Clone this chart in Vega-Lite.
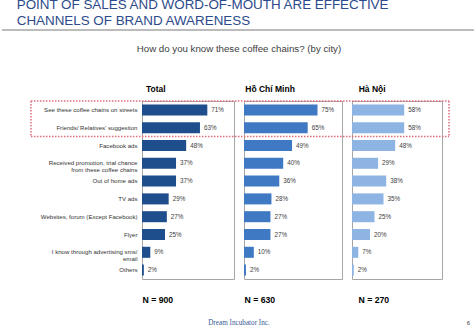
{
  "$schema": "https://vega.github.io/schema/vega-lite/v6.json",
  "background": "white",
  "padding": {"left": 0, "top": -3, "right": 0, "bottom": 0},
  "config": {
    "view": {"stroke": "#a6a6a6", "strokeWidth": 1},
    "font": "Liberation Sans",
    "text": {"font": "Liberation Sans"}
  },
  "title": {
    "text": ["POINT OF SALES AND WORD-OF-MOUTH ARE EFFECTIVE", "CHANNELS OF BRAND AWARENESS"],
    "anchor": "start",
    "frame": "bounds",
    "dx": 16,
    "fontSize": 13.4,
    "fontWeight": "normal",
    "font": "Liberation Sans",
    "color": "#2c4a8c",
    "lineHeight": 16.7,
    "offset": 1
  },
  "datasets": {
    "survey": [
      {"channel": "See these coffee chains on streets", "city": "Total", "pct": 0.71},
      {"channel": "Friends/ Relatives' suggestion", "city": "Total", "pct": 0.63},
      {"channel": "Facebook ads", "city": "Total", "pct": 0.48},
      {"channel": "Received promotion, trial chance|from these coffee chains", "city": "Total", "pct": 0.37},
      {"channel": "Out of home ads", "city": "Total", "pct": 0.37},
      {"channel": "TV ads", "city": "Total", "pct": 0.29},
      {"channel": "Websites, forum (Except Facebook)", "city": "Total", "pct": 0.27},
      {"channel": "Flyer", "city": "Total", "pct": 0.25},
      {"channel": "I know through advertising sms/|email", "city": "Total", "pct": 0.09},
      {"channel": "Others", "city": "Total", "pct": 0.02},
      {"channel": "See these coffee chains on streets", "city": "HCM", "pct": 0.75},
      {"channel": "Friends/ Relatives' suggestion", "city": "HCM", "pct": 0.65},
      {"channel": "Facebook ads", "city": "HCM", "pct": 0.49},
      {"channel": "Received promotion, trial chance|from these coffee chains", "city": "HCM", "pct": 0.40},
      {"channel": "Out of home ads", "city": "HCM", "pct": 0.36},
      {"channel": "TV ads", "city": "HCM", "pct": 0.28},
      {"channel": "Websites, forum (Except Facebook)", "city": "HCM", "pct": 0.27},
      {"channel": "Flyer", "city": "HCM", "pct": 0.27},
      {"channel": "I know through advertising sms/|email", "city": "HCM", "pct": 0.10},
      {"channel": "Others", "city": "HCM", "pct": 0.02},
      {"channel": "See these coffee chains on streets", "city": "HN", "pct": 0.58},
      {"channel": "Friends/ Relatives' suggestion", "city": "HN", "pct": 0.58},
      {"channel": "Facebook ads", "city": "HN", "pct": 0.48},
      {"channel": "Received promotion, trial chance|from these coffee chains", "city": "HN", "pct": 0.29},
      {"channel": "Out of home ads", "city": "HN", "pct": 0.38},
      {"channel": "TV ads", "city": "HN", "pct": 0.35},
      {"channel": "Websites, forum (Except Facebook)", "city": "HN", "pct": 0.25},
      {"channel": "Flyer", "city": "HN", "pct": 0.20},
      {"channel": "I know through advertising sms/|email", "city": "HN", "pct": 0.07},
      {"channel": "Others", "city": "HN", "pct": 0.02}
    ]
  },
  "bounds": "flush",
  "spacing": 10,
  "hconcat": [
    {
      "width": 92,
      "height": 178,
      "data": {"name": "survey"},
      "resolve": {"scale": {"y": "independent"}},
      "layer": [
        {
          "transform": [{"filter": "datum.city == 'Total'"}],
          "mark": {"type": "bar", "color": "#1f4e8c"},
          "encoding": {
            "y": {"field": "channel", "type": "nominal", "sort": null, "scale": {"paddingInner": 0.38, "paddingOuter": 0.19},
                  "axis": {"title": null, "domain": false, "ticks": false, "labelPadding": 5, "labelFontSize": 6.1, "labelColor": "#333333", "labelLineHeight": 7, "labelExpr": "split(datum.label, '|')", "labelLimit": 200}},
            "x": {"field": "pct", "type": "quantitative", "scale": {"domain": [0, 1], "nice": false},
                  "axis": {"labels": false, "ticks": false, "domain": false, "grid": false, "title": "N = 900", "titleFontSize": 8.7, "titleFontWeight": "bold", "titleAnchor": "start", "titlePadding": 16, "titleColor": "#000000"}}
          }
        },
        {
          "transform": [{"filter": "datum.city == 'Total'"}],
          "mark": {"type": "text", "align": "left", "dx": 4, "fontSize": 6.3, "color": "#404040"},
          "encoding": {
            "y": {"field": "channel", "type": "nominal", "sort": null, "scale": {"paddingInner": 0.38, "paddingOuter": 0.19}, "axis": null},
            "x": {"field": "pct", "type": "quantitative", "scale": {"domain": [0, 1], "nice": false}},
            "text": {"field": "pct", "type": "quantitative", "format": ".0%"}
          }
        },
        {
          "data": {"values": [{}]},
          "mark": {"type": "text", "align": "left", "baseline": "middle", "fontSize": 8.5, "fontWeight": "bold", "color": "#000000", "clip": false},
          "encoding": {
            "x": {"datum": 0.043, "type": "quantitative", "scale": {"domain": [0, 1], "nice": false}},
            "y": {"datum": -0.69, "type": "quantitative", "scale": {"domain": [0, 10], "reverse": true, "nice": false, "zero": false}, "axis": null},
            "text": {"value": "Total"}
          }
        },
        {
          "data": {"values": [{}]},
          "mark": {"type": "rule", "color": "#e06c7c", "strokeWidth": 1.5, "strokeDash": [1.5, 1.5], "clip": false},
          "encoding": {
            "x": {"datum": -1.207, "type": "quantitative", "scale": {"domain": [0, 1], "nice": false}},
            "x2": {"datum": 1.109},
            "y": {"datum": 0, "type": "quantitative", "scale": {"domain": [0, 10], "reverse": true, "nice": false, "zero": false}, "axis": null}
          }
        },
        {
          "data": {"values": [{}]},
          "mark": {"type": "rule", "color": "#e06c7c", "strokeWidth": 1.5, "strokeDash": [1.5, 1.5], "clip": false},
          "encoding": {
            "x": {"datum": -1.207, "type": "quantitative", "scale": {"domain": [0, 1], "nice": false}},
            "x2": {"datum": 1.109},
            "y": {"datum": 2, "type": "quantitative", "scale": {"domain": [0, 10], "reverse": true, "nice": false, "zero": false}, "axis": null}
          }
        },
        {
          "data": {"values": [{}]},
          "mark": {"type": "rule", "color": "#e06c7c", "strokeWidth": 1.5, "strokeDash": [1.5, 1.5], "clip": false},
          "encoding": {
            "x": {"datum": -1.207, "type": "quantitative", "scale": {"domain": [0, 1], "nice": false}},
            "y": {"datum": 0, "type": "quantitative", "scale": {"domain": [0, 10], "reverse": true, "nice": false, "zero": false}, "axis": null},
            "y2": {"datum": 2}
          }
        },
        {
          "data": {"values": [{}]},
          "mark": {"type": "rule", "color": "#a6a6a6", "strokeWidth": 1.5, "clip": false},
          "encoding": {
            "x": {"datum": -1.522, "type": "quantitative", "scale": {"domain": [0, 1], "nice": false}},
            "x2": {"datum": 3.63},
            "y": {"datum": -3.99, "type": "quantitative", "scale": {"domain": [0, 10], "reverse": true, "nice": false, "zero": false}, "axis": null}
          }
        },
        {
          "data": {"values": [{}]},
          "mark": {"type": "text", "align": "center", "baseline": "middle", "fontSize": 9.7, "color": "#404040", "clip": false},
          "encoding": {
            "x": {"datum": 1.054, "type": "quantitative", "scale": {"domain": [0, 1], "nice": false}},
            "y": {"datum": -2.92, "type": "quantitative", "scale": {"domain": [0, 10], "reverse": true, "nice": false, "zero": false}, "axis": null},
            "text": {"value": "How do you know these coffee chains? (by city)"}
          }
        }
      ]
    },
    {
      "width": 98,
      "height": 178,
      "data": {"name": "survey"},
      "resolve": {"scale": {"y": "independent"}},
      "layer": [
        {
          "transform": [{"filter": "datum.city == 'HCM'"}],
          "mark": {"type": "bar", "color": "#3f79c4"},
          "encoding": {
            "y": {"field": "channel", "type": "nominal", "sort": null, "scale": {"paddingInner": 0.38, "paddingOuter": 0.19}, "axis": null},
            "x": {"field": "pct", "type": "quantitative", "scale": {"domain": [0, 1], "nice": false},
                  "axis": {"labels": false, "ticks": false, "domain": false, "grid": false, "title": "N = 630", "titleFontSize": 8.7, "titleFontWeight": "bold", "titleAnchor": "start", "titlePadding": 16, "titleColor": "#000000"}}
          }
        },
        {
          "transform": [{"filter": "datum.city == 'HCM'"}],
          "mark": {"type": "text", "align": "left", "dx": 4, "fontSize": 6.3, "color": "#404040"},
          "encoding": {
            "y": {"field": "channel", "type": "nominal", "sort": null, "scale": {"paddingInner": 0.38, "paddingOuter": 0.19}, "axis": null},
            "x": {"field": "pct", "type": "quantitative", "scale": {"domain": [0, 1], "nice": false}},
            "text": {"field": "pct", "type": "quantitative", "format": ".0%"}
          }
        },
        {
          "data": {"values": [{}]},
          "mark": {"type": "text", "align": "left", "baseline": "middle", "fontSize": 8.5, "fontWeight": "bold", "color": "#000000", "clip": false},
          "encoding": {
            "x": {"datum": 0.013, "type": "quantitative", "scale": {"domain": [0, 1], "nice": false}},
            "y": {"datum": -0.69, "type": "quantitative", "scale": {"domain": [0, 10], "reverse": true, "nice": false, "zero": false}, "axis": null},
            "text": {"value": "Hồ Chí Minh"}
          }
        },
        {
          "data": {"values": [{}]},
          "mark": {"type": "rule", "color": "#e06c7c", "strokeWidth": 1.5, "strokeDash": [1.5, 1.5], "clip": false},
          "encoding": {
            "x": {"datum": 0, "type": "quantitative", "scale": {"domain": [0, 1], "nice": false}},
            "x2": {"datum": 1.102},
            "y": {"datum": 0, "type": "quantitative", "scale": {"domain": [0, 10], "reverse": true, "nice": false, "zero": false}, "axis": null}
          }
        },
        {
          "data": {"values": [{}]},
          "mark": {"type": "rule", "color": "#e06c7c", "strokeWidth": 1.5, "strokeDash": [1.5, 1.5], "clip": false},
          "encoding": {
            "x": {"datum": 0, "type": "quantitative", "scale": {"domain": [0, 1], "nice": false}},
            "x2": {"datum": 1.102},
            "y": {"datum": 2, "type": "quantitative", "scale": {"domain": [0, 10], "reverse": true, "nice": false, "zero": false}, "axis": null}
          }
        },
        {
          "data": {"values": [{}]},
          "mark": {"type": "text", "align": "center", "baseline": "middle", "fontSize": 7.2, "font": "Liberation Serif", "color": "#3a5a9a", "clip": false},
          "encoding": {
            "x": {"datum": -0.051, "type": "quantitative", "scale": {"domain": [0, 1], "nice": false}},
            "y": {"datum": 12.45, "type": "quantitative", "scale": {"domain": [0, 10], "reverse": true, "nice": false, "zero": false}, "axis": null},
            "text": {"value": "Dream Incubator Inc."}
          }
        },
        {
          "data": {"values": [{}]},
          "mark": {"type": "text", "align": "center", "baseline": "middle", "fontSize": 6, "color": "#404040", "clip": false},
          "encoding": {
            "x": {"datum": 2.29, "type": "quantitative", "scale": {"domain": [0, 1], "nice": false}},
            "y": {"datum": 12.45, "type": "quantitative", "scale": {"domain": [0, 10], "reverse": true, "nice": false, "zero": false}, "axis": null},
            "text": {"value": "6"}
          }
        }
      ]
    },
    {
      "width": 90,
      "height": 178,
      "data": {"name": "survey"},
      "resolve": {"scale": {"y": "independent"}},
      "layer": [
        {
          "transform": [{"filter": "datum.city == 'HN'"}],
          "mark": {"type": "bar", "color": "#8db4e2"},
          "encoding": {
            "y": {"field": "channel", "type": "nominal", "sort": null, "scale": {"paddingInner": 0.38, "paddingOuter": 0.19}, "axis": null},
            "x": {"field": "pct", "type": "quantitative", "scale": {"domain": [0, 1], "nice": false},
                  "axis": {"labels": false, "ticks": false, "domain": false, "grid": false, "title": "N = 270", "titleFontSize": 8.7, "titleFontWeight": "bold", "titleAnchor": "start", "titleX": 6, "titlePadding": 16, "titleColor": "#000000"}}
          }
        },
        {
          "transform": [{"filter": "datum.city == 'HN'"}],
          "mark": {"type": "text", "align": "left", "dx": 4, "fontSize": 6.3, "color": "#404040"},
          "encoding": {
            "y": {"field": "channel", "type": "nominal", "sort": null, "scale": {"paddingInner": 0.38, "paddingOuter": 0.19}, "axis": null},
            "x": {"field": "pct", "type": "quantitative", "scale": {"domain": [0, 1], "nice": false}},
            "text": {"field": "pct", "type": "quantitative", "format": ".0%"}
          }
        },
        {
          "data": {"values": [{}]},
          "mark": {"type": "text", "align": "left", "baseline": "middle", "fontSize": 8.5, "fontWeight": "bold", "color": "#000000", "clip": false},
          "encoding": {
            "x": {"datum": 0.074, "type": "quantitative", "scale": {"domain": [0, 1], "nice": false}},
            "y": {"datum": -0.69, "type": "quantitative", "scale": {"domain": [0, 10], "reverse": true, "nice": false, "zero": false}, "axis": null},
            "text": {"value": "Hà Nội"}
          }
        },
        {
          "data": {"values": [{}]},
          "mark": {"type": "rule", "color": "#e06c7c", "strokeWidth": 1.5, "strokeDash": [1.5, 1.5], "clip": false},
          "encoding": {
            "x": {"datum": 0, "type": "quantitative", "scale": {"domain": [0, 1], "nice": false}},
            "x2": {"datum": 1.078},
            "y": {"datum": 0, "type": "quantitative", "scale": {"domain": [0, 10], "reverse": true, "nice": false, "zero": false}, "axis": null}
          }
        },
        {
          "data": {"values": [{}]},
          "mark": {"type": "rule", "color": "#e06c7c", "strokeWidth": 1.5, "strokeDash": [1.5, 1.5], "clip": false},
          "encoding": {
            "x": {"datum": 0, "type": "quantitative", "scale": {"domain": [0, 1], "nice": false}},
            "x2": {"datum": 1.078},
            "y": {"datum": 2, "type": "quantitative", "scale": {"domain": [0, 10], "reverse": true, "nice": false, "zero": false}, "axis": null}
          }
        },
        {
          "data": {"values": [{}]},
          "mark": {"type": "rule", "color": "#e06c7c", "strokeWidth": 1.5, "strokeDash": [1.5, 1.5], "clip": false},
          "encoding": {
            "x": {"datum": 1.078, "type": "quantitative", "scale": {"domain": [0, 1], "nice": false}},
            "y": {"datum": 0, "type": "quantitative", "scale": {"domain": [0, 10], "reverse": true, "nice": false, "zero": false}, "axis": null},
            "y2": {"datum": 2}
          }
        }
      ]
    }
  ]
}
